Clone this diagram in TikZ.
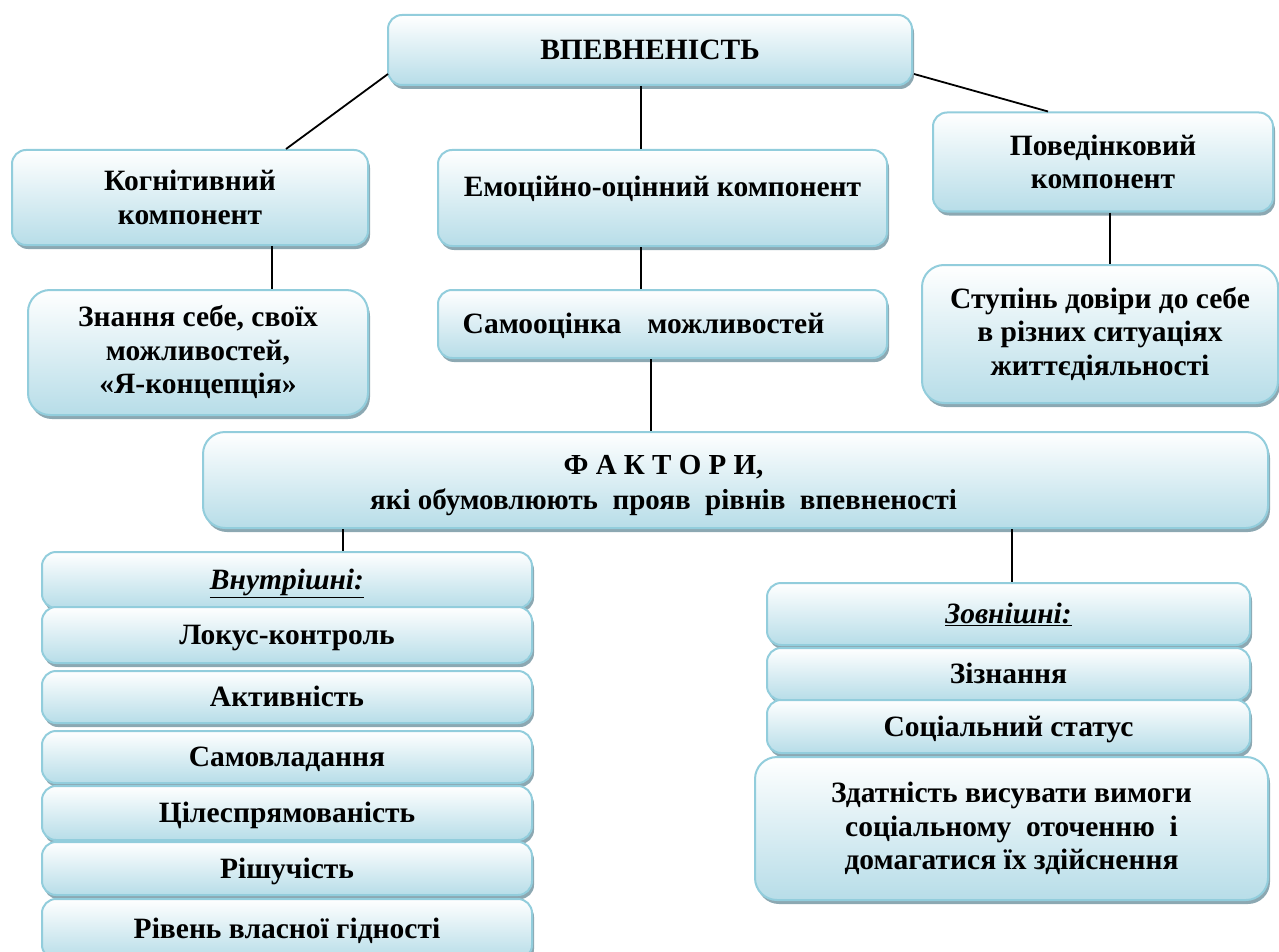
\documentclass[tikz,border=0pt]{standalone}
\usepackage{fontspec}
\setmainfont{Liberation Serif}
\usetikzlibrary{shadows,calc}
\definecolor{bordc}{RGB}{146,205,220}
\definecolor{fillb}{RGB}{183,221,232}
\definecolor{shadc}{RGB}{140,168,178}
\begin{document}
\begin{tikzpicture}[x=1pt,y=-1pt,
  box/.style={draw=bordc, line width=2pt, rounded corners=14pt,
    top color=white, bottom color=fillb,
    drop shadow={shadow xshift=2pt, shadow yshift=-4pt, fill=shadc, opacity=1},
    inner sep=0pt, align=center,
    font=\fontsize{29.5}{33.5}\selectfont\bfseries},
  bigbox/.style={box, rounded corners=22pt},
  oneline/.style={text height=19.5pt, text depth=0pt},
  conn/.style={line width=1.8pt, black}]
\useasboundingbox (0,0) rectangle (1279,952);
\clip (0,0) rectangle (1279,952);

% top level
\node[box, oneline, minimum width=524pt, minimum height=70pt] (top) at (650,50) {ВПЕВНЕНІСТЬ};

% components
\node[box, minimum width=356pt, minimum height=95pt] (kog) at (190,197.5) {Когнітивний\\компонент};
\node[box, minimum width=449pt, minimum height=96pt] (emo) at (662.5,198) {\raisebox{24pt}{Емоційно-оцінний компонент}};
\node[box, minimum width=340pt, minimum height=99pt] (pov) at (1103,162) {Поведінковий\\компонент};

% second level
\node[bigbox, minimum width=340pt, minimum height=125pt] (zn) at (198,352.5) {Знання себе, своїх\\можливостей,\\«Я-концепція»};
\node[box, oneline, minimum width=449pt, minimum height=68pt] (sam) at (662.5,324) {Самооцінка\hspace{26pt}можливостей\hspace{38pt}};
\node[bigbox, minimum width=356pt, minimum height=138pt] (stu) at (1100,334) {Ступінь довіри до себе\\в різних ситуаціях\\життєдіяльності};

% factors
\node[bigbox, minimum width=1065pt, minimum height=96pt] (fak) at (735.5,480)
  {\raisebox{-11pt}[0pt][0pt]{\fontsize{29}{35}\selectfont\begin{tabular}{@{}c@{}}Ф А К Т О Р И,\\які обумовлюють\ \ прояв\ \ рівнів\ \ впевненості\end{tabular}}\hspace{144pt}};

% internal factors
\node[box, oneline, minimum width=490pt, minimum height=56pt] (vnu) at (287,580) {\underline{\textit{Внутрішні:}}};
\node[box, oneline, minimum width=490pt, minimum height=56pt] (lok) at (287,635) {Локус-контроль};
\node[box, oneline, minimum width=490pt, minimum height=52pt] (akt) at (287,697) {Активність};
\node[box, oneline, minimum width=490pt, minimum height=52pt] (samv) at (287,757) {Самовладання};
\node[box, oneline, minimum width=490pt, minimum height=54pt] (cil) at (287,813) {Цілеспрямованість};
\node[box, oneline, minimum width=490pt, minimum height=53pt] (rish) at (287,868.5) {Рішучість};
\node[box, oneline, minimum width=490pt, minimum height=60pt] (riv) at (287,929) {Рівень власної гідності};

% external factors
\node[box, oneline, minimum width=483pt, minimum height=62pt] (zov) at (1008.5,614) {\underline{\textit{Зовнішні:}}};
\node[box, oneline, minimum width=483pt, minimum height=52pt] (ziz) at (1008.5,674) {Зізнання};
\node[box, oneline, minimum width=483pt, minimum height=53pt] (soc) at (1008.5,726.5) {Соціальний статус};
\node[bigbox, minimum width=513pt, minimum height=143pt] (zda) at (1011.5,828.5) {Здатність висувати вимоги\\соціальному\ \ оточенню\ \ і\\домагатися їх здійснення};

% connectors
\draw[conn] ($(top.south west)+(1,-12)$) -- ($(kog.north west)+(275,0)$);
\draw[conn] ($(top.south)+(-9,0)$) -- ($(emo.north)+(-21.5,0)$);
\draw[conn] ($(top.east)+(1,24)$) -- ($(pov.north)+(-55,0)$);
\draw[conn] ($(kog.south)+(82,0)$) -- ($(zn.north)+(74,0)$);
\draw[conn] ($(emo.south)+(-21.5,0)$) -- ($(sam.north)+(-21.5,0)$);
\draw[conn] ($(pov.south)+(7,0)$) -- ($(stu.north)+(10,0)$);
\draw[conn] ($(sam.south)+(-11.5,0)$) -- ($(fak.north)+(-84.5,0)$);
\draw[conn] ($(fak.south)+(-392.5,0)$) -- ($(vnu.north)+(56,0)$);
\draw[conn] ($(fak.south)+(276.5,0)$) -- ($(zov.north)+(3.5,0)$);
\end{tikzpicture}
\end{document}
